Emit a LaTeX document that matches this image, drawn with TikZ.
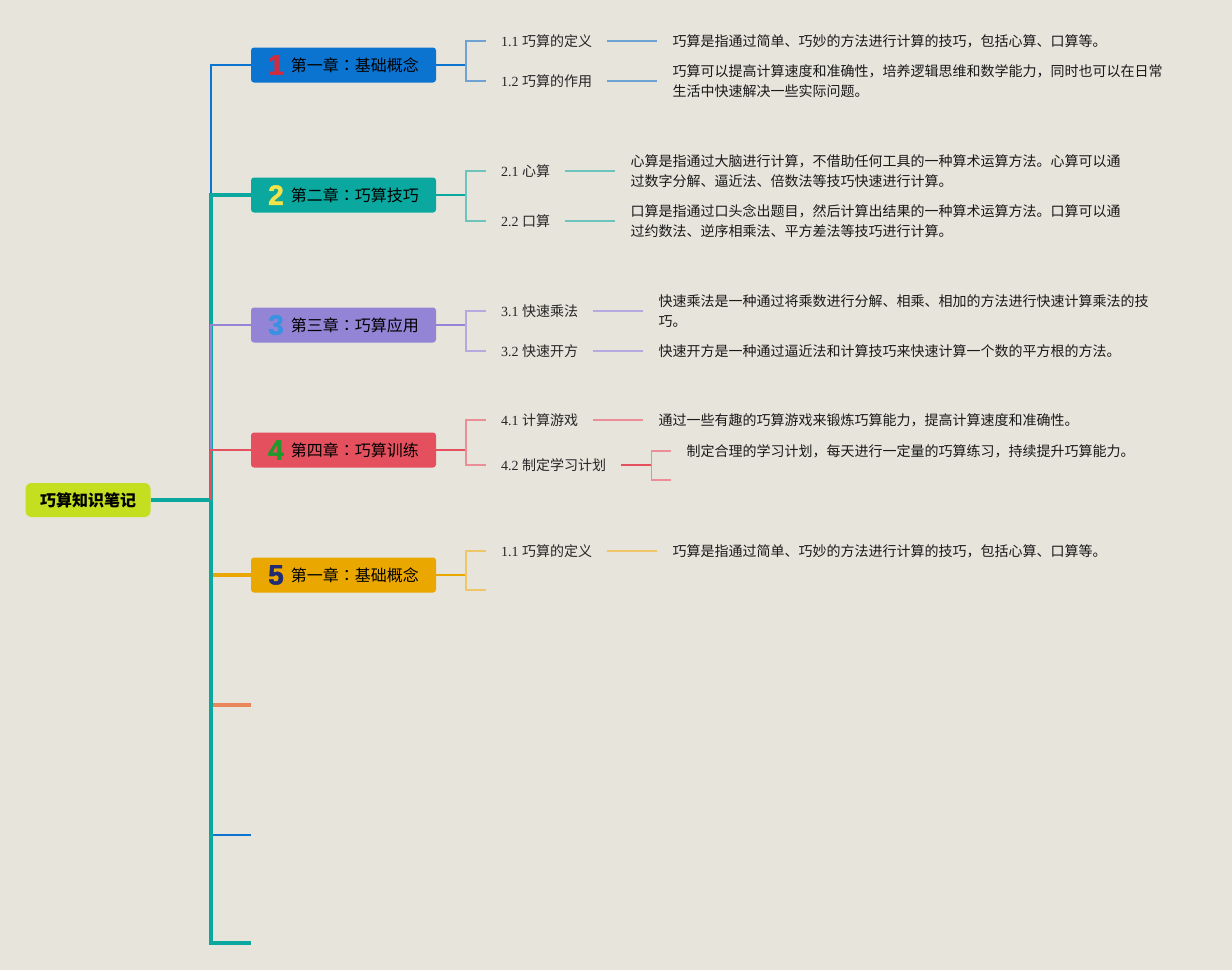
\documentclass[tikz,border=0pt]{standalone}
\usepackage{fontspec}
\setmainfont{Liberation Serif}
\newfontfamily\cjk{Noto Sans CJK SC}
\newfontfamily\cjkjp{Noto Sans CJK JP}
\newfontfamily\numfont{Liberation Sans}[BoldFeatures={FakeBold=1.6}]
\usepackage{xcolor}
\usetikzlibrary{positioning}
\usetikzlibrary{calc}

\definecolor{bgPaper}{HTML}{E7E4DC}
\definecolor{rootLime}{HTML}{C3DF1F}
\definecolor{chapBlue}{HTML}{0B74D0}
\definecolor{chapTeal}{HTML}{0AA89E}
\definecolor{chapPurple}{HTML}{9484D5}
\definecolor{chapRed}{HTML}{E5505F}
\definecolor{chapOrange}{HTML}{EAA700}
\definecolor{stubOrange}{HTML}{E9875A}
\definecolor{lightBlue}{HTML}{6EA2D2}
\definecolor{lightTeal}{HTML}{6DC4BC}
\definecolor{lightPurple}{HTML}{B5AADF}
\definecolor{lightRed}{HTML}{EC8E97}
\definecolor{lightOrange}{HTML}{EFC56A}
\definecolor{numRed}{HTML}{D42A3C}
\definecolor{numYellow}{HTML}{F3E34A}
\definecolor{numBlue}{HTML}{3A90E2}
\definecolor{numGreen}{HTML}{1E9A2A}
\definecolor{numNavy}{HTML}{1F2B73}

\tikzset{
	rootBox/.style={fill=rootLime, rounded corners=6pt, minimum width=125pt, minimum height=34pt, inner sep=0pt, font=\cjk\bfseries\fontsize{16}{18}\selectfont},
	chapBox/.style={rounded corners=3pt, minimum width=185pt, minimum height=35pt, inner sep=0pt, font=\cjk\fontsize{16}{18}\selectfont},
	subLabel/.style={anchor=west, inner sep=0pt, text=black!85, font=\fontsize{14}{20}\selectfont},
	descText/.style={anchor=west, inner sep=0pt, align=left, text=black!90, font=\cjk\fontsize{14}{20}\selectfont},
	thinLink/.style={line width=2pt},
	thickLink/.style={line width=4pt},
	childLink/.style={line width=1.5pt}
}

\begin{document}
\begin{tikzpicture}[x=1pt, y=-1pt]
	\fill[bgPaper] (0,0) rectangle (1232,970);
	\useasboundingbox (0,0) rectangle (1232,970);

	\node[rootBox] (root) at (88,500) {巧算知识笔记};
	\coordinate (junc) at (211,500);

	\foreach \iChap/\yPos/\chapColor/\numColor/\chapText in {1/65/chapBlue/numRed/第一章{\cjkjp ：}基础概念, 2/195/chapTeal/numYellow/第二章{\cjkjp ：}巧算技巧, 3/325/chapPurple/numBlue/第三章{\cjkjp ：}巧算应用, 4/450/chapRed/numGreen/第四章{\cjkjp ：}巧算训练, 5/575/chapOrange/numNavy/第一章{\cjkjp ：}基础概念}
	{
		\node[chapBox, fill=\chapColor] (chap\iChap) at (343.5,\yPos) {{\numfont\bfseries\fontsize{28}{28}\selectfont\color{\numColor}\raisebox{-3pt}{\iChap}}\hspace{7pt}\chapText};
	}
	\coordinate (stub6) at (251,705);
	\coordinate (stub7) at (251,835);
	\coordinate (stub8) at (251,943);

	% trunk
	\draw[thickLink, chapTeal] (root.east) -- (junc);
	\foreach \iChap/\linkStyle/\linkColor in {1/thinLink/chapBlue, 2/thickLink/chapTeal, 3/thinLink/chapPurple, 4/thinLink/chapRed, 5/thickLink/chapOrange}
	{
		\draw[\linkStyle, \linkColor] (junc) |- (chap\iChap.west);
	}
	\foreach \iStub/\linkStyle/\linkColor in {6/thickLink/stubOrange, 7/thinLink/chapBlue, 8/thickLink/chapTeal}
	{
		\draw[\linkStyle, \linkColor] (junc) |- (stub\iStub);
	}

	% chapter 1
	\draw[childLink, chapBlue] (chap1.east) -- ++(30,0) coordinate (fork1);
	\node[subLabel] (sub11) at (501,41) {1.1 {\cjk 巧算的定义}};
	\node[subLabel] (sub12) at (501,81) {1.2 {\cjk 巧算的作用}};
	\draw[childLink, lightBlue] ($(sub11.west)+(-15,0)$) -| (fork1) |- ($(sub12.west)+(-15,0)$);
	\node[descText, right=80pt of sub11] (desc11) {巧算是指通过简单、巧妙的方法进行计算的技巧，包括心算、口算等。};
	\node[descText, right=80pt of sub12] (desc12) {巧算可以提高计算速度和准确性，培养逻辑思维和数学能力，同时也可以在日常\\生活中快速解决一些实际问题。};
	\draw[childLink, lightBlue] ($(sub11.east)+(15,0)$) -- ($(desc11.west)+(-15,0)$);
	\draw[childLink, lightBlue] ($(sub12.east)+(15,0)$) -- ($(desc12.west)+(-15,0)$);

	% chapter 2
	\draw[childLink, chapTeal] (chap2.east) -- ++(30,0) coordinate (fork2);
	\node[subLabel] (sub21) at (501,171) {2.1 {\cjk 心算}};
	\node[subLabel] (sub22) at (501,221) {2.2 {\cjk 口算}};
	\draw[childLink, lightTeal] ($(sub21.west)+(-15,0)$) -| (fork2) |- ($(sub22.west)+(-15,0)$);
	\node[descText, right=80pt of sub21] (desc21) {心算是指通过大脑进行计算，不借助任何工具的一种算术运算方法。心算可以通\\过数字分解、逼近法、倍数法等技巧快速进行计算。};
	\node[descText, right=80pt of sub22] (desc22) {口算是指通过口头念出题目，然后计算出结果的一种算术运算方法。口算可以通\\过约数法、逆序相乘法、平方差法等技巧进行计算。};
	\draw[childLink, lightTeal] ($(sub21.east)+(15,0)$) -- ($(desc21.west)+(-15,0)$);
	\draw[childLink, lightTeal] ($(sub22.east)+(15,0)$) -- ($(desc22.west)+(-15,0)$);

	% chapter 3
	\draw[childLink, chapPurple] (chap3.east) -- ++(30,0) coordinate (fork3);
	\node[subLabel] (sub31) at (501,311) {3.1 {\cjk 快速乘法}};
	\node[subLabel] (sub32) at (501,351) {3.2 {\cjk 快速开方}};
	\draw[childLink, lightPurple] ($(sub31.west)+(-15,0)$) -| (fork3) |- ($(sub32.west)+(-15,0)$);
	\node[descText, right=80pt of sub31] (desc31) {快速乘法是一种通过将乘数进行分解、相乘、相加的方法进行快速计算乘法的技\\巧。};
	\node[descText, right=80pt of sub32] (desc32) {快速开方是一种通过逼近法和计算技巧来快速计算一个数的平方根的方法。};
	\draw[childLink, lightPurple] ($(sub31.east)+(15,0)$) -- ($(desc31.west)+(-15,0)$);
	\draw[childLink, lightPurple] ($(sub32.east)+(15,0)$) -- ($(desc32.west)+(-15,0)$);

	% chapter 4
	\draw[childLink, chapRed] (chap4.east) -- ++(30,0) coordinate (fork4);
	\node[subLabel] (sub41) at (501,420) {4.1 {\cjk 计算游戏}};
	\node[subLabel] (sub42) at (501,465) {4.2 {\cjk 制定学习计划}};
	\draw[childLink, lightRed] ($(sub41.west)+(-15,0)$) -| (fork4) |- ($(sub42.west)+(-15,0)$);
	\node[descText, right=80pt of sub41] (desc41) {通过一些有趣的巧算游戏来锻炼巧算能力，提高计算速度和准确性。};
	\draw[childLink, lightRed] ($(sub41.east)+(15,0)$) -- ($(desc41.west)+(-15,0)$);
	\draw[childLink, chapRed] ($(sub42.east)+(15,0)$) -- ++(30,0) coordinate (fork42);
	\node[descText] (desc42) at ($(fork42)+(35,-14)$) {制定合理的学习计划，每天进行一定量的巧算练习，持续提升巧算能力。};
	\coordinate (empty42) at ($(fork42)+(20,15)$);
	\draw[childLink, lightRed] ($(desc42.west)+(-15,0)$) -| (fork42) |- (empty42);

	% chapter 5
	\draw[childLink, chapOrange] (chap5.east) -- ++(30,0) coordinate (fork5);
	\node[subLabel] (sub51) at (501,551) {1.1 {\cjk 巧算的定义}};
	\coordinate (empty51) at (486,590);
	\draw[childLink, lightOrange] ($(sub51.west)+(-15,0)$) -| (fork5) |- (empty51);
	\node[descText, right=80pt of sub51] (desc51) {巧算是指通过简单、巧妙的方法进行计算的技巧，包括心算、口算等。};
	\draw[childLink, lightOrange] ($(sub51.east)+(15,0)$) -- ($(desc51.west)+(-15,0)$);
\end{tikzpicture}
\end{document}
